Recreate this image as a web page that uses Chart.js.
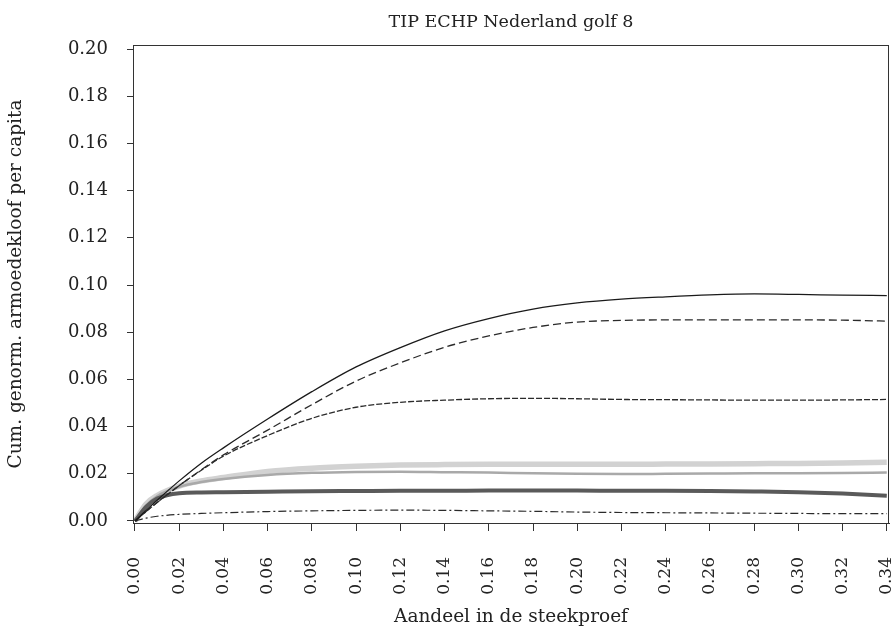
<!DOCTYPE html>
<html>
<head>
<meta charset="utf-8">
<script src="https://cdn.jsdelivr.net/npm/chart.js@4/dist/chart.umd.min.js"></script>
<style>
  html, body { margin: 0; padding: 0; background: #fff; }
  #wrap { width: 893px; height: 638px; }
</style>
</head>
<body>
<div id="wrap"><canvas id="chart" width="893" height="638"></canvas></div>
<script>
// share of the sample (x) and cumulative normalised poverty gap per capita (y)
const shares = [0, 0.005, 0.01, 0.02, 0.03, 0.04, 0.06, 0.08, 0.10, 0.12, 0.14,
  0.16, 0.18, 0.20, 0.22, 0.24, 0.26, 0.28, 0.30, 0.32, 0.34];

const solidBlack = [0, 0.0045, 0.0088, 0.017, 0.0245, 0.031, 0.0432, 0.0548, 0.0653, 0.0735, 0.0806,
  0.0858, 0.0898, 0.0924, 0.0940, 0.0950, 0.0958, 0.0962, 0.0960, 0.0957, 0.0955];
const dashedUpper = [0, 0.004, 0.0078, 0.015, 0.0217, 0.028, 0.0385, 0.0493, 0.0593, 0.067, 0.0736,
  0.0784, 0.082, 0.0843, 0.085, 0.0852, 0.0852, 0.0852, 0.0852, 0.0851, 0.0847];
const dashedLower = [0, 0.004, 0.0078, 0.015, 0.0215, 0.0275, 0.0362, 0.0435, 0.0482, 0.0503, 0.0512,
  0.0518, 0.052, 0.0518, 0.0515, 0.0514, 0.0513, 0.0512, 0.0512, 0.0513, 0.0515];
const lightGrey = [0, 0.0072, 0.0108, 0.0148, 0.017, 0.0184, 0.021, 0.0224, 0.0232, 0.0237, 0.0239,
  0.024, 0.024, 0.024, 0.024, 0.0241, 0.0242, 0.0243, 0.0244, 0.0246, 0.0249];
const midGrey = [0, 0.0065, 0.0105, 0.0145, 0.0165, 0.0178, 0.0195, 0.0204, 0.0208, 0.0209, 0.0207,
  0.0205, 0.0202, 0.02, 0.0199, 0.02, 0.0201, 0.0202, 0.0202, 0.0203, 0.0205];
const darkGrey = [0, 0.006, 0.0095, 0.0118, 0.0121, 0.0122, 0.0124, 0.0126, 0.0127, 0.0128, 0.0128,
  0.0129, 0.0129, 0.0129, 0.0128, 0.0128, 0.0127, 0.0125, 0.0122, 0.0116, 0.0107];
const dashDot = [0, 0.0012, 0.002, 0.0028, 0.0032, 0.0035, 0.004, 0.0043, 0.0045, 0.0046, 0.0045,
  0.0043, 0.0041, 0.0038, 0.0036, 0.0035, 0.0034, 0.0033, 0.0032, 0.0031, 0.0031];

const xTicks = [0, 0.02, 0.04, 0.06, 0.08, 0.10, 0.12, 0.14, 0.16, 0.18, 0.20,
  0.22, 0.24, 0.26, 0.28, 0.30, 0.32, 0.34];
const yTicks = [0, 0.02, 0.04, 0.06, 0.08, 0.10, 0.12, 0.14, 0.16, 0.18, 0.20];

const FONT = "'DejaVu Serif', serif";
const INK = '#222';

function pts(values) {
  return shares.map((x, i) => ({ x: x, y: values[i] }));
}

function series(values, color, width, dash) {
  return {
    data: pts(values),
    borderColor: color,
    borderWidth: width,
    borderDash: dash || [],
    pointRadius: 0,
    fill: false,
    cubicInterpolationMode: 'monotone'
  };
}

// frame round the plot area (top and right side)
const frame = {
  id: 'frame',
  afterDatasetsDraw(chart) {
    const a = chart.chartArea;
    const ctx = chart.ctx;
    ctx.save();
    ctx.strokeStyle = '#333';
    ctx.lineWidth = 1;
    ctx.strokeRect(a.left + 0.5, a.top + 0.5, a.right - a.left - 1, a.bottom - a.top);
    ctx.restore();
  }
};

new Chart(document.getElementById('chart'), {
  type: 'line',
  data: {
    // dataset 0 is drawn on top
    datasets: [
      series(solidBlack, '#1a1a1a', 1.3),
      series(dashedUpper, '#2a2a2a', 1.3, [8, 4]),
      series(dashedLower, '#2a2a2a', 1.3, [6, 2]),
      series(dashDot, '#2a2a2a', 1.2, [8, 3, 2, 3]),
      series(darkGrey, '#5a5a5a', 4),
      series(midGrey, '#a9a9a9', 2.5),
      series(lightGrey, '#d2d2d2', 5.5)
    ]
  },
  options: {
    responsive: false,
    animation: false,
    layout: { padding: { left: 0, right: 4, top: 0, bottom: 0 } },
    plugins: {
      legend: { display: false },
      tooltip: { enabled: false },
      title: {
        display: true,
        text: 'TIP ECHP Nederland golf 8',
        fullSize: false,
        color: INK,
        font: { family: FONT, size: 17.5, weight: 'normal' },
        padding: { top: 12, bottom: 12 }
      }
    },
    scales: {
      x: {
        type: 'linear',
        min: -0.0009,
        max: 0.341,
        afterBuildTicks: (scale) => { scale.ticks = xTicks.map(v => ({ value: v })); },
        afterFit: (scale) => {
          scale.height = 115;
          scale.paddingLeft = 0;
          scale.paddingRight = 0;
        },
        grid: { drawOnChartArea: false, drawTicks: true, tickLength: 8, color: '#333' },
        border: { display: true, color: '#333', width: 1 },
        ticks: {
          color: INK,
          font: { family: FONT, size: 17 },
          minRotation: 90,
          maxRotation: 90,
          padding: 26,
          autoSkip: false,
          callback: (v) => v.toFixed(2)
        },
        title: {
          display: true,
          text: 'Aandeel in de steekproef',
          color: INK,
          font: { family: FONT, size: 18.5 },
          padding: { top: 0, bottom: 10 }
        }
      },
      y: {
        type: 'linear',
        min: -0.00085,
        max: 0.2017,
        afterBuildTicks: (scale) => { scale.ticks = yTicks.map(v => ({ value: v })); },
        afterFit: (scale) => {
          scale.width = 133;
          scale.paddingTop = 0;
          scale.paddingBottom = 0;
        },
        grid: { drawOnChartArea: false, drawTicks: true, tickLength: 6, color: '#333' },
        border: { display: true, color: '#333', width: 1 },
        ticks: {
          color: INK,
          font: { family: FONT, size: 18 },
          padding: 19,
          callback: (v) => v.toFixed(2)
        },
        title: {
          display: true,
          text: 'Cum. genorm. armoedekloof per capita',
          color: INK,
          font: { family: FONT, size: 18.5 },
          padding: { top: 5, bottom: 0 }
        }
      }
    }
  },
  plugins: [frame]
});
</script>
</body>
</html>
